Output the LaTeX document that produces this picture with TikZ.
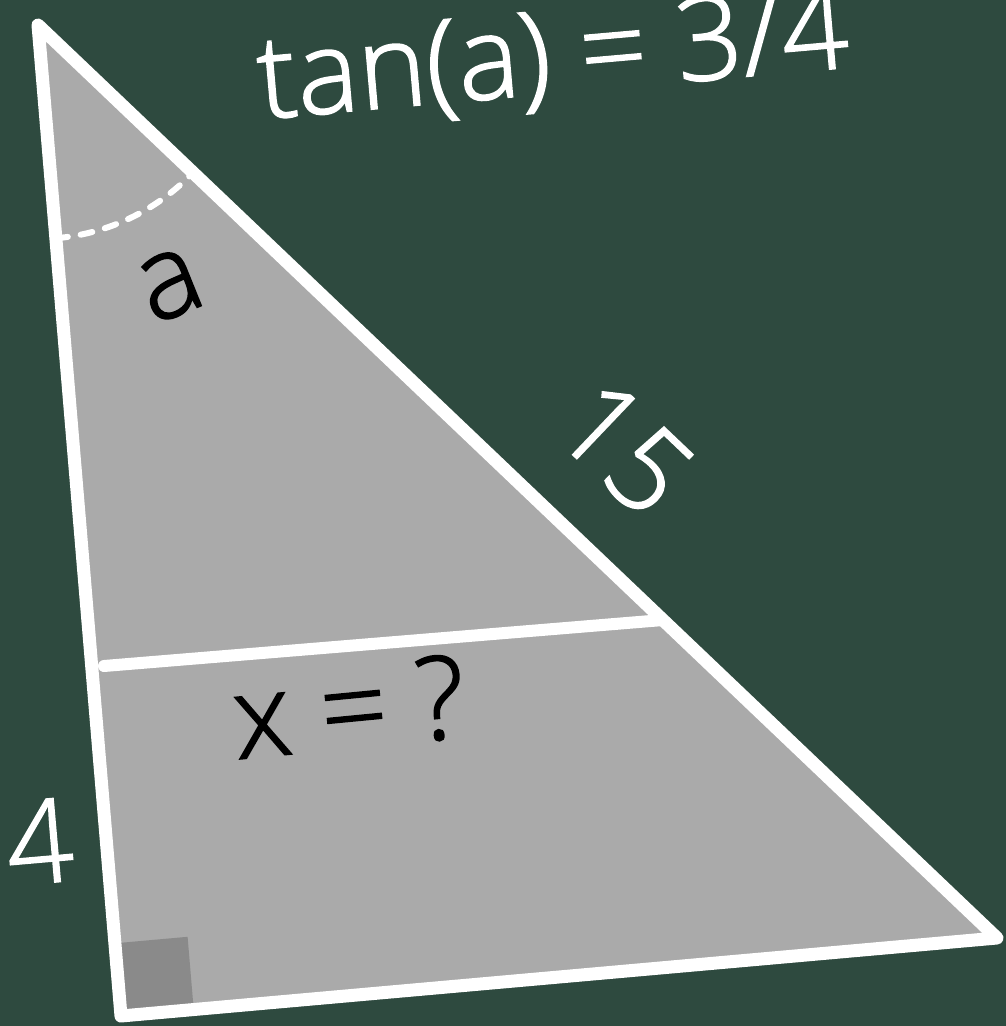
\documentclass[tikz,border=0pt]{standalone}
\usepackage{fontspec}
\setmainfont{Open Sans}[UprightFont=* Light, FakeBold=1.5]
\definecolor{bg}{HTML}{2E4A3F}
\definecolor{trigrey}{HTML}{AAAAAA}
\definecolor{sqgrey}{HTML}{8A8A8A}
\begin{document}
\begin{tikzpicture}[x=1pt,y=-1pt,
  lbl/.style={font=\fontsize{116}{130}\selectfont, inner sep=0pt},
  edge/.style={draw=white, line width=13pt, line join=round, line cap=round},
  midline/.style={draw=white, line width=12pt, line cap=round},
  arcdash/.style={draw=white, line width=6pt, dash pattern=on 12pt off 13pt, line cap=round}]
\fill[bg] (0,0) rectangle (1006,1026);
\useasboundingbox (0,0) rectangle (1006,1026);
\coordinate (T) at (38,25);
\coordinate (R) at (121,1016);
\coordinate (B) at (997,938);
\coordinate (P) at (104,666);
\coordinate (Q) at (663,620);
\fill[trigrey] (T) -- (R) -- (B) -- cycle;
\fill[sqgrey] (R) -- ++(-6.1,-72.7) -- ++(72.7,-6.5) -- ++(6.1,72.7) -- cycle;
\draw[arcdash] ([shift={(85.2:214)}]T) arc[start angle=85.2, end angle=43.6, radius=214];
\draw[midline] (P) -- (Q);
\draw[edge] (T) -- (R) -- (B) -- cycle;
\node[lbl, text=white, anchor=base, rotate=5] (tan) at (556,93) {tan(a) = 3/4};
\node[lbl, text=black, anchor=base, rotate=5.5] (xq) at (353,748) {x = ?};
\node[lbl, text=white, anchor=base, rotate=5] (four) at (43,883) {4};
\node[lbl, text=black, rotate=22] (alab) at (170,285) {a};
\node[lbl, text=white, rotate=-43.6] (fift) at (625,448) {15};
\end{tikzpicture}
\end{document}
